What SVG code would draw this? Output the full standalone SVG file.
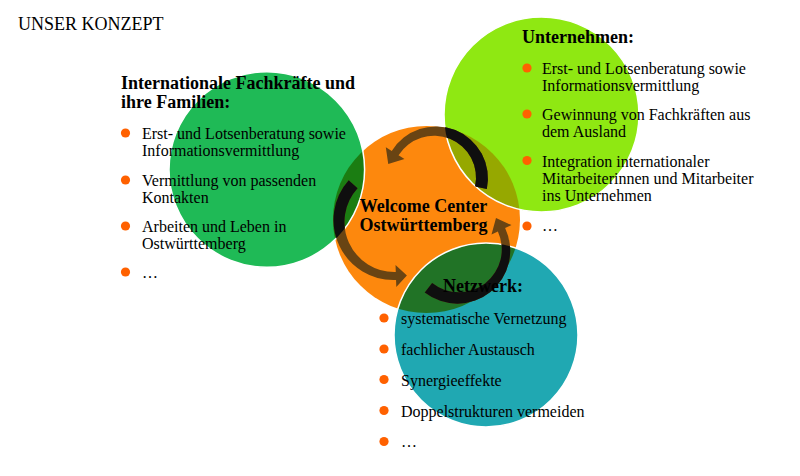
<svg xmlns="http://www.w3.org/2000/svg" xmlns:xlink="http://www.w3.org/1999/xlink" width="800" height="476" viewBox="0 0 800 476">
  <style>
    text { font-family: "Liberation Serif", "Times New Roman", serif; fill: #000; }
    .title { font-size: 18px; }
    .head { font-size: 18px; font-weight: bold; }
    .item { font-size: 16px; }
    .bullet { fill: #ff6100; }
    .edge { fill: none; stroke: #fff; stroke-width: 1.5; }
  </style>
  <defs>
    <clipPath id="clipOrange"><circle cx="426.5" cy="219.5" r="93.5"/></clipPath>
    <clipPath id="clipOuter">
      <circle cx="266.8" cy="169.5" r="97.8"/>
      <circle cx="541.5" cy="114.5" r="97.5"/>
      <circle cx="486" cy="335" r="92"/>
    </clipPath>
    <g id="arrowShapes">
      <path d="M486.84,189.02 A52,52 0 0 0 391.75,150.98 L385.82,147.27 L388.25,164.11 L404.47,158.92 L398.54,155.21 A42,42 0 0 1 475.10,186.52 Z"/>
      <path d="M348.67,180.18 A60,60 0 0 0 396.06,279.96 L396.30,286.96 L406.9,275.6 L395.54,264.97 L395.78,271.97 A50,50 0 0 1 357.59,188.21 Z"/>
      <path d="M424.75,292.55 A53,53 0 0 0 505.13,228.02 L511.5,225.1 L496.0,217.9 L491.5,234.4 L497.88,231.41 A43,43 0 0 1 432.14,283.10 Z"/>
    </g>
  </defs>

  <rect width="800" height="476" fill="#fff"/>

  <text class="title" x="18" y="30">UNSER KONZEPT</text>

  <g id="node-center">
    <circle cx="426.5" cy="219.5" r="93.5" fill="#fd880d"/>
  </g>

  <g id="node-fachkraefte-circle">
    <circle cx="266.8" cy="169.5" r="97.8" fill="#1fba56"/>
  </g>
  <g id="node-unternehmen-circle">
    <circle cx="541.5" cy="114.5" r="97.5" fill="#8fe812"/>
  </g>
  <g id="node-netzwerk-circle">
    <circle cx="486" cy="335" r="92" fill="#20a8b2"/>
  </g>

  <g id="overlaps" clip-path="url(#clipOrange)">
    <circle cx="266.8" cy="169.5" r="97.8" fill="#1b7d12"/>
    <circle cx="541.5" cy="114.5" r="97.5" fill="#96a800"/>
    <circle cx="486" cy="335" r="92" fill="#217326"/>
  </g>
  <g id="edges">
    <circle class="edge" cx="266.8" cy="169.5" r="97.8"/>
    <circle class="edge" cx="541.5" cy="114.5" r="97.5"/>
    <circle class="edge" cx="486" cy="335" r="92"/>
  </g>

  <g id="connectors">
    <use xlink:href="#arrowShapes" fill="#694413"/>
    <use xlink:href="#arrowShapes" fill="#0f0f0f" clip-path="url(#clipOuter)"/>
  </g>

  <g id="label-center">
    <text class="head" x="423.5" y="212" text-anchor="middle">Welcome Center</text>
    <text class="head" x="423.5" y="231" text-anchor="middle">Ostwürttemberg</text>
  </g>

  <g id="node-fachkraefte">
    <text class="head" x="121" y="89">Internationale Fachkräfte und</text>
    <text class="head" x="121" y="108">ihre Familien:</text>
    <circle class="bullet" cx="125.5" cy="133" r="4.6"/>
    <text class="item" x="142" y="139">Erst- und Lotsenberatung sowie</text>
    <text class="item" x="142" y="156">Informationsvermittlung</text>
    <circle class="bullet" cx="125.5" cy="180" r="4.6"/>
    <text class="item" x="142" y="186">Vermittlung von passenden</text>
    <text class="item" x="142" y="203">Kontakten</text>
    <circle class="bullet" cx="125.5" cy="226" r="4.6"/>
    <text class="item" x="142" y="232">Arbeiten und Leben in</text>
    <text class="item" x="142" y="249">Ostwürttemberg</text>
    <circle class="bullet" cx="125.5" cy="272" r="4.6"/>
    <text class="item" x="142" y="278">…</text>
  </g>

  <g id="node-unternehmen">
    <text class="head" x="522" y="43">Unternehmen:</text>
    <circle class="bullet" cx="527" cy="68" r="4.6"/>
    <text class="item" x="542" y="74">Erst- und Lotsenberatung sowie</text>
    <text class="item" x="542" y="91">Informationsvermittlung</text>
    <circle class="bullet" cx="527" cy="114" r="4.6"/>
    <text class="item" x="542" y="120">Gewinnung von Fachkräften aus</text>
    <text class="item" x="542" y="137">dem Ausland</text>
    <circle class="bullet" cx="527" cy="160.5" r="4.6"/>
    <text class="item" x="542" y="166.5">Integration internationaler</text>
    <text class="item" x="542" y="183.5">Mitarbeiterinnen und Mitarbeiter</text>
    <text class="item" x="542" y="200.5">ins Unternehmen</text>
    <circle class="bullet" cx="527" cy="226" r="4.6"/>
    <text class="item" x="542" y="231">…</text>
  </g>

  <g id="node-netzwerk">
    <text class="head" x="443" y="292">Netzwerk:</text>
    <circle class="bullet" cx="384" cy="318" r="4.6"/>
    <text class="item" x="401" y="324">systematische Vernetzung</text>
    <circle class="bullet" cx="384" cy="349" r="4.6"/>
    <text class="item" x="401" y="355">fachlicher Austausch</text>
    <circle class="bullet" cx="384" cy="379.5" r="4.6"/>
    <text class="item" x="401" y="385.5">Synergieeffekte</text>
    <circle class="bullet" cx="384" cy="410.5" r="4.6"/>
    <text class="item" x="401" y="416.5">Doppelstrukturen vermeiden</text>
    <circle class="bullet" cx="384" cy="441.5" r="4.6"/>
    <text class="item" x="401" y="447">…</text>
  </g>
</svg>
